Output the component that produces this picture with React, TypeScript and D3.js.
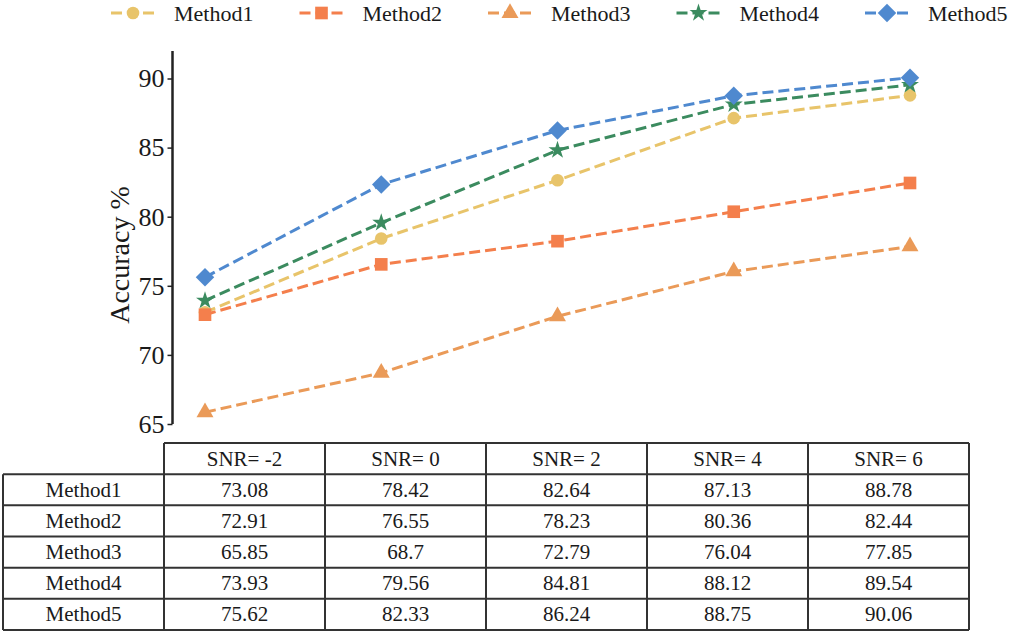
import React, { useEffect, useRef } from "react";
import * as d3 from "d3";

const snrLabels = ["SNR= -2", "SNR= 0", "SNR= 2", "SNR= 4", "SNR= 6"];
const methods = ["Method1", "Method2", "Method3", "Method4", "Method5"];
const method1 = [73.08, 78.42, 82.64, 87.13, 88.78];
const method2 = [72.91, 76.55, 78.23, 80.36, 82.44];
const method3 = [65.85, 68.7, 72.79, 76.04, 77.85];
const method4 = [73.93, 79.56, 84.81, 88.12, 89.54];
const method5 = [75.62, 82.33, 86.24, 88.75, 90.06];
const yTicks = [65, 70, 75, 80, 85, 90];

const colors = ["#E8C46A", "#F47F4C", "#EA9A58", "#3B8B5F", "#4F89CF"];
const series = [method1, method2, method3, method4, method5];

const FONT = '"Liberation Serif", Tinos, "Times New Roman", Times, "DejaVu Serif", serif';

const markerPath = (i: number, size: number) => {
  const types = [d3.symbolCircle, d3.symbolSquare, d3.symbolTriangle, d3.symbolStar, d3.symbolSquare];
  return d3.symbol().type(types[i]).size(size)() as string;
};
const markerSize = [125, 160, 125, 100, 170];

export default function App() {
  const svgRef = useRef<SVGSVGElement | any>();

  useEffect(() => {
    const svg = d3.select(svgRef.current);
    svg.selectAll("*").remove();

    const x = d3.scalePoint<string>().domain(snrLabels).range([205, 910]);
    const y = d3.scaleLinear().domain([65, 90]).range([424, 78.5]);

    // y axis
    const yAxis: any = d3.axisLeft(y).tickValues(yTicks).tickSize(5).tickPadding(3);
    const ga = svg.append("g").attr("transform", "translate(172.5,0)").call(yAxis);
    ga.attr("font-family", null);
    ga.select(".domain").remove();
    ga.selectAll("line").attr("stroke", "#222").attr("stroke-width", 1.5);
    ga.selectAll("text").style("font-size", "26px").attr("fill", "#1a1a1a");
    svg
      .append("line")
      .attr("x1", 172.5)
      .attr("x2", 172.5)
      .attr("y1", 51)
      .attr("y2", y(65))
      .attr("stroke", "#222")
      .attr("stroke-width", 2.5);

    svg
      .append("text")
      .attr("transform", "translate(129,255) rotate(-90)")
      .attr("text-anchor", "middle")
      .style("font-size", "28px")
      .attr("fill", "#1a1a1a")
      .text("Accuracy %");

    // lines
    const line = d3
      .line<number>()
      .x((d, i) => x(snrLabels[i]) as number)
      .y((d) => y(d));

    series.forEach((vals, si) => {
      svg
        .append("path")
        .attr("d", line(vals))
        .attr("fill", "none")
        .attr("stroke", colors[si])
        .attr("stroke-width", 3)
        .attr("stroke-dasharray", "11,5");
      svg
        .selectAll(".m" + si)
        .data(vals)
        .join("path")
        .attr("class", "m" + si)
        .attr("d", markerPath(si, markerSize[si]))
        .attr("fill", colors[si])
        .attr(
          "transform",
          (d, i) =>
            `translate(${x(snrLabels[i])},${y(d)})` + (si === 4 ? " rotate(45)" : "")
        );
    });

    // legend
    const legX = d3.scalePoint<string>().domain(methods).range([133, 887]);
    methods.forEach((m, si) => {
      const cx = legX(m) as number;
      const g = svg.append("g").attr("transform", `translate(${cx},13)`);
      g.append("line")
        .attr("x1", -22)
        .attr("x2", 22)
        .attr("stroke", colors[si])
        .attr("stroke-width", 3)
        .attr("stroke-dasharray", "11,5");
      g.append("path")
        .attr("d", markerPath(si, markerSize[si]))
        .attr("fill", colors[si])
        .attr("transform", si === 4 ? "rotate(45)" : "");
      g.append("text")
        .attr("x", 41)
        .attr("y", 8)
        .style("font-size", "22px")
        .attr("fill", "#1a1a1a")
        .text(m);
    });

    // table
    const colX = d3.scaleBand<string>().domain(snrLabels).range([164, 969]);
    const rowY = d3.scaleBand<string>().domain(["header", ...methods]).range([443, 630]);
    const tg = svg.append("g");
    const stroke = "#333";
    const rowKeys = ["header", ...methods];
    rowKeys.forEach((r, ri) => {
      const yy = rowY(r) as number;
      tg.append("line")
        .attr("x1", ri === 0 ? 164 : 3)
        .attr("x2", 969)
        .attr("y1", yy)
        .attr("y2", yy)
        .attr("stroke", stroke)
        .attr("stroke-width", 2);
    });
    tg.append("line")
      .attr("x1", 3)
      .attr("x2", 969)
      .attr("y1", 630)
      .attr("y2", 630)
      .attr("stroke", stroke)
      .attr("stroke-width", 2);
    tg.append("line")
      .attr("x1", 3)
      .attr("x2", 3)
      .attr("y1", rowY("Method1") as number)
      .attr("y2", 630)
      .attr("stroke", stroke)
      .attr("stroke-width", 2);
    [...snrLabels.map((s) => colX(s) as number), 969].forEach((xx) => {
      tg.append("line")
        .attr("x1", xx)
        .attr("x2", xx)
        .attr("y1", 443)
        .attr("y2", 630)
        .attr("stroke", stroke)
        .attr("stroke-width", 2);
    });
    const bw = colX.bandwidth();
    const bh = rowY.bandwidth();
    const cellText = (cx: number, cy: number, t: string) =>
      tg
        .append("text")
        .attr("x", cx)
        .attr("y", cy + 7)
        .attr("text-anchor", "middle")
        .style("font-size", "21px")
        .attr("fill", "#1a1a1a")
        .text(t);
    snrLabels.forEach((s) => cellText((colX(s) as number) + bw / 2, (rowY("header") as number) + bh / 2, s));
    methods.forEach((m, si) => {
      const cy = (rowY(m) as number) + bh / 2;
      cellText(83.5, cy, m);
      series[si].forEach((v, i) => cellText((colX(snrLabels[i]) as number) + bw / 2, cy, String(v)));
    });
  }, []);

  return (
    <svg
      ref={svgRef}
      width={1009}
      height={634}
      style={{ position: "absolute", left: 0, top: 0, background: "#fff", fontFamily: FONT }}
    />
  );
}
